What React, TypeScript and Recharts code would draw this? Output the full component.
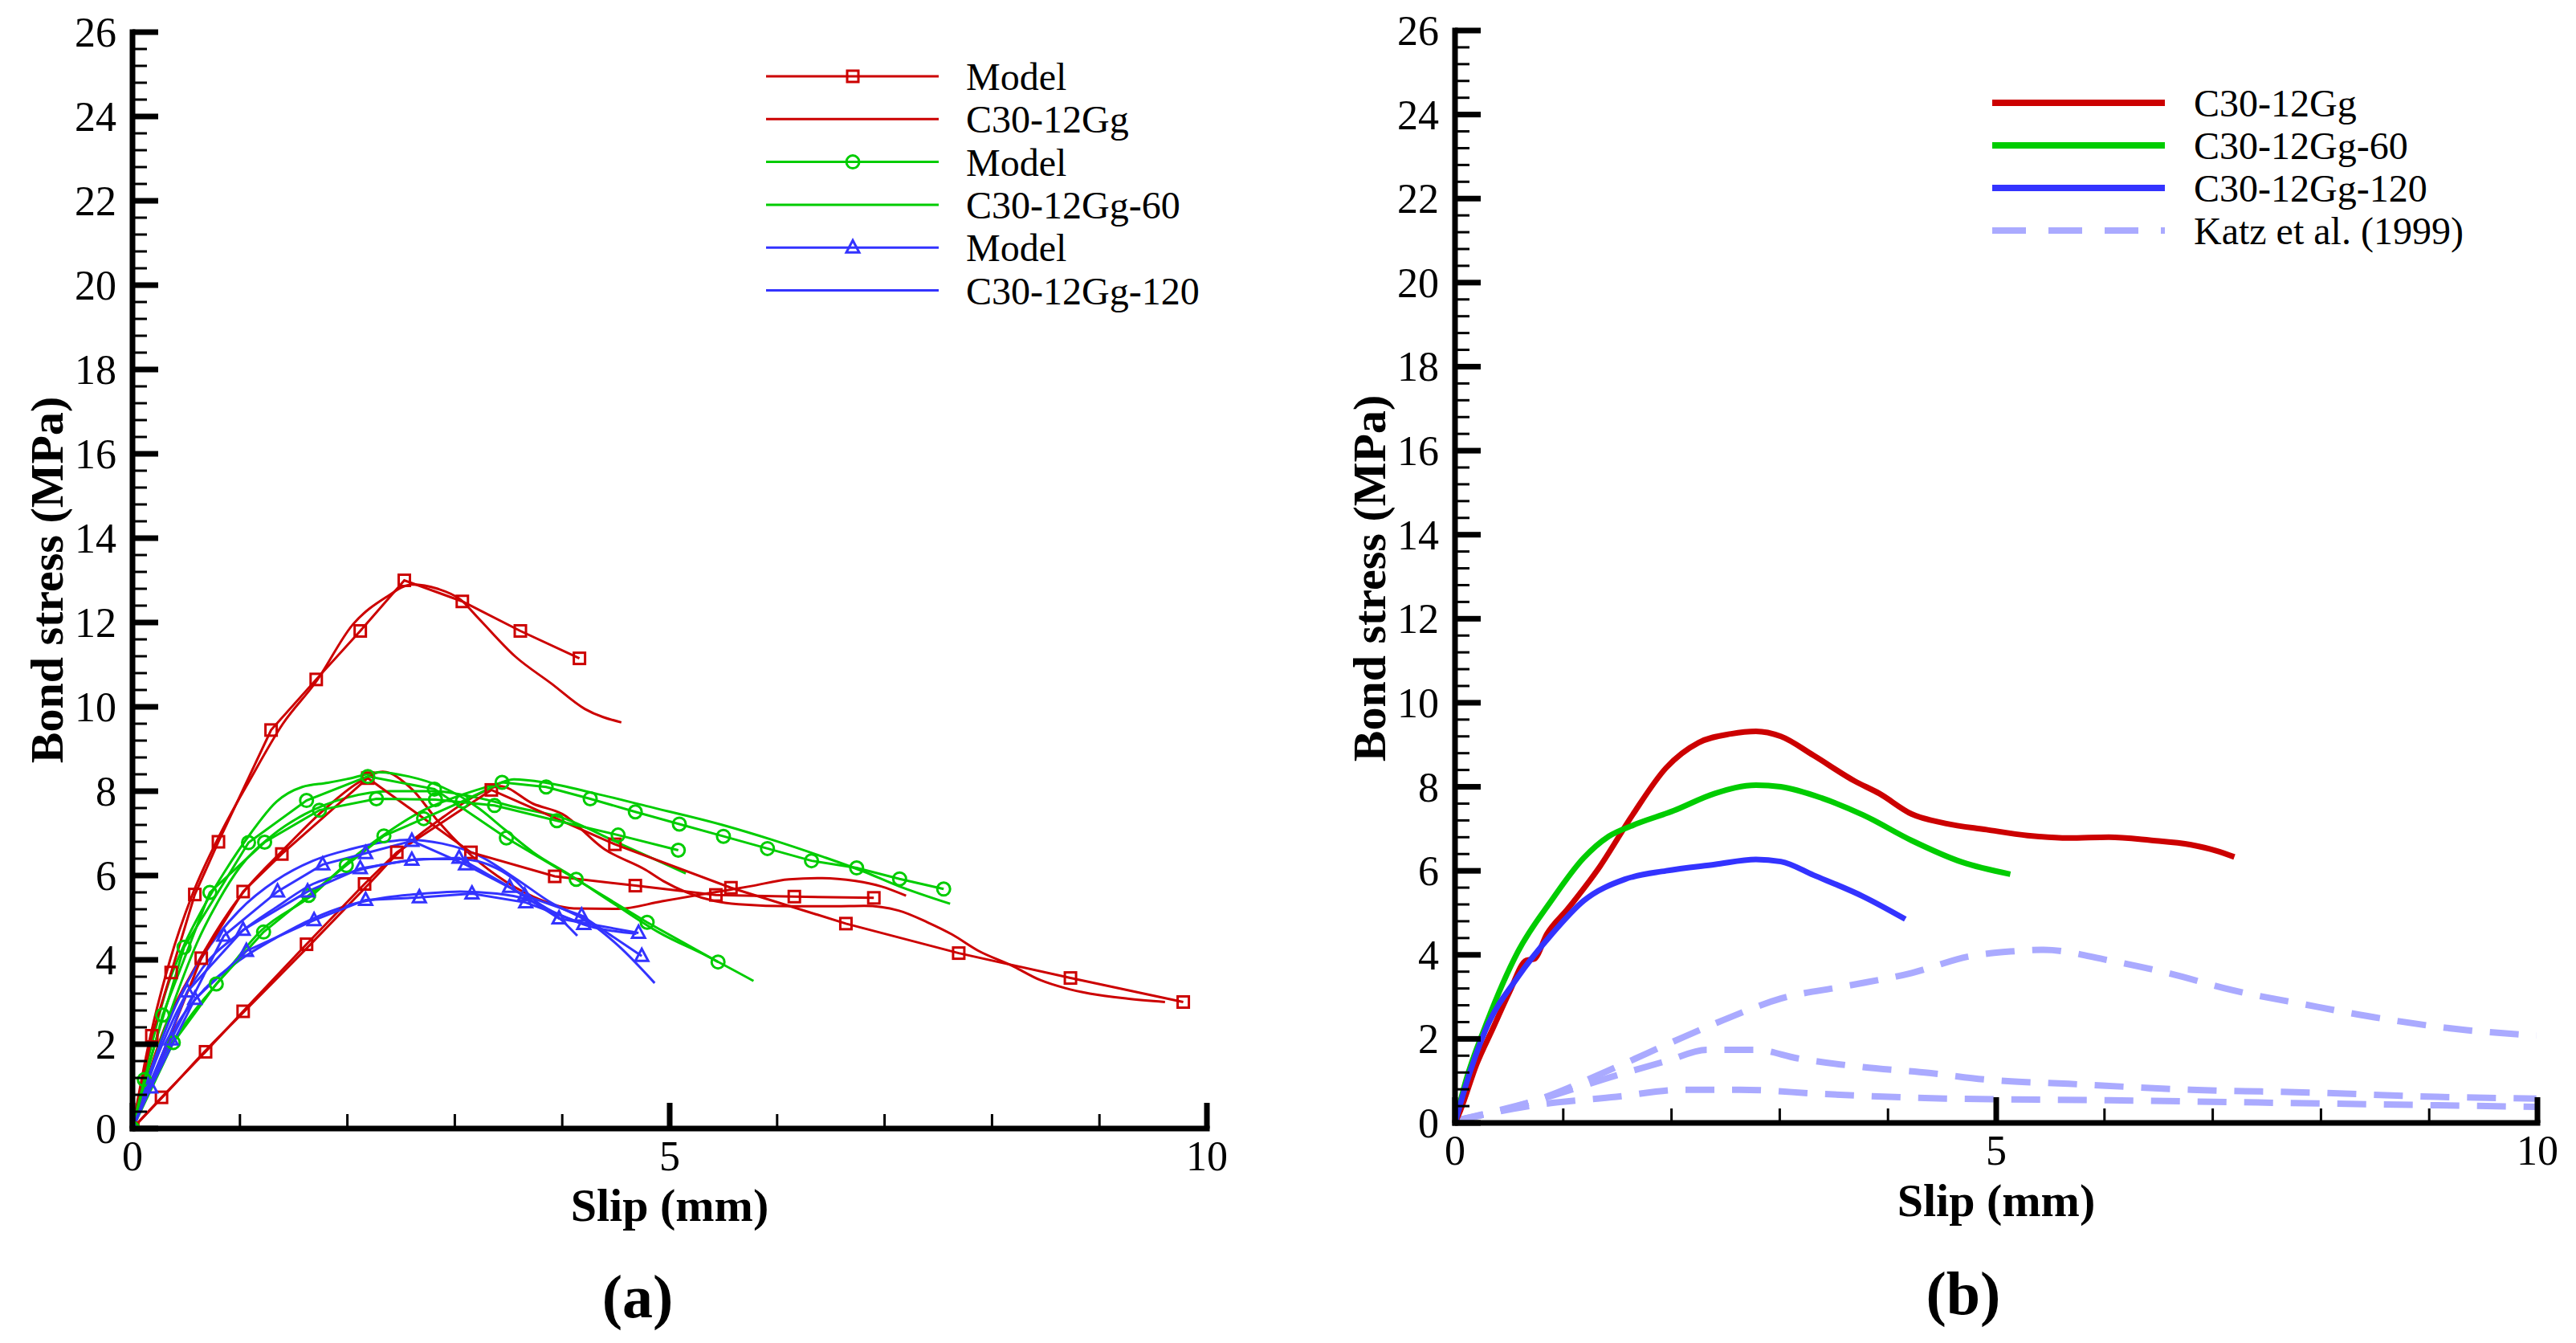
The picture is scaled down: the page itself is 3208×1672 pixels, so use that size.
import React from "react";
import { LineChart, Line, XAxis, YAxis } from "recharts";

type Pt = [number, number];

// axis tick labels
const X_MAJOR = [0, 5, 10];
const Y_MAJOR = [0, 2, 4, 6, 8, 10, 12, 14, 16, 18, 20, 22, 24, 26];

// (a) model curves (with markers)
const redModel1: Pt[] = [[0, 0], [0.18, 2.2], [0.36, 3.7], [0.58, 5.55], [0.8, 6.8], [1.29, 9.45], [1.71, 10.65], [2.12, 11.8], [2.53, 13.0], [3.07, 12.5], [3.61, 11.8], [4.16, 11.15]];
const redModel2: Pt[] = [[0, 0], [0.64, 4.04], [1.03, 5.62], [1.39, 6.51], [2.19, 8.31], [3.15, 6.55], [3.93, 5.98], [4.68, 5.76], [5.43, 5.54], [6.16, 5.5], [6.9, 5.47]];
const redModel3: Pt[] = [[0, 0], [0.27, 0.74], [0.68, 1.82], [1.03, 2.78], [1.62, 4.37], [2.16, 5.8], [2.46, 6.55], [3.34, 8.03], [4.49, 6.74], [5.57, 5.71], [6.64, 4.86], [7.69, 4.16], [8.73, 3.57], [9.78, 3.0]];
const greenModel1: Pt[] = [[0, 0], [0.28, 2.69], [0.72, 5.6], [1.23, 6.79], [1.74, 7.55], [2.27, 7.82], [2.82, 7.8], [3.37, 7.66], [3.95, 7.3], [4.52, 6.96], [5.08, 6.6]];
const greenModel2: Pt[] = [[0, 0], [0.11, 1.16], [0.48, 4.3], [1.08, 6.78], [1.62, 7.78], [2.19, 8.35], [2.81, 8.05], [3.48, 6.89], [4.13, 5.91], [4.79, 4.89], [5.45, 3.95]];
const greenModel3: Pt[] = [[0, 0], [0.38, 2.04], [0.78, 3.43], [1.22, 4.66], [1.64, 5.53], [1.99, 6.24], [2.34, 6.94], [2.71, 7.35], [3.07, 7.76], [3.44, 8.21], [3.85, 8.1], [4.26, 7.82], [4.68, 7.51], [5.09, 7.22], [5.5, 6.93], [5.91, 6.64], [6.32, 6.35], [6.74, 6.18], [7.14, 5.92], [7.55, 5.68]];
const blueModel1: Pt[] = [[0, 0], [0.36, 2.11], [0.85, 4.57], [1.35, 5.62], [1.77, 6.26], [2.17, 6.53], [2.6, 6.82], [3.1, 6.26], [3.65, 5.53], [4.18, 5.05], [4.74, 4.09]];
const blueModel2: Pt[] = [[0, 0], [0.51, 3.25], [1.03, 4.71], [1.63, 5.62], [2.12, 6.17], [2.6, 6.37], [3.04, 6.42], [3.51, 5.73], [3.97, 4.98], [4.71, 4.64]];
const blueModel3: Pt[] = [[0, 0], [0.17, 0.97], [0.58, 3.07], [1.06, 4.21], [1.69, 4.94], [2.17, 5.42], [2.67, 5.48], [3.16, 5.57], [3.66, 5.36], [4.2, 4.85]];

// (a) test curves
const redTest1: Pt[] = [[0, 0], [0.15, 2.0], [0.35, 4.0], [0.55, 5.5], [0.8, 6.9], [1.1, 8.3], [1.4, 9.6], [1.71, 10.6], [2.05, 11.95], [2.36, 12.6], [2.6, 12.9], [2.84, 12.8], [3.05, 12.55], [3.22, 12.1], [3.56, 11.2], [3.9, 10.55], [4.21, 9.95], [4.55, 9.63]];
const redTest2: Pt[] = [[0, 0], [0.3, 2.4], [0.6, 3.9], [1.0, 5.5], [1.4, 6.6], [1.8, 7.6], [2.1, 8.2], [2.33, 8.46], [2.6, 8.05], [2.84, 7.3], [3.1, 6.6], [3.39, 6.0], [3.73, 5.5], [4.11, 5.22], [4.52, 5.21], [4.93, 5.39], [5.34, 5.57], [5.76, 5.75], [6.11, 5.91], [6.42, 5.94], [6.73, 5.87], [6.97, 5.74], [7.2, 5.52]];
const redTest3: Pt[] = [[0, 0], [0.3, 0.8], [0.7, 1.9], [1.05, 2.8], [1.65, 4.35], [2.2, 5.8], [2.5, 6.6], [2.9, 7.4], [3.2, 7.9], [3.42, 8.12], [3.73, 7.7], [4.0, 7.46], [4.39, 6.63], [4.78, 6.13], [4.94, 5.87], [5.17, 5.59], [5.41, 5.4], [5.64, 5.32], [6.15, 5.27], [6.54, 5.27], [6.81, 5.28], [7.13, 5.17], [7.4, 4.89], [7.63, 4.6], [7.87, 4.22], [8.18, 3.87], [8.45, 3.52], [8.68, 3.33], [8.91, 3.2], [9.26, 3.08], [9.61, 3.0]];
const greenTest1: Pt[] = [[0, 0], [0.2, 1.6], [0.4, 3.1], [0.6, 4.4], [0.8, 5.4], [1.0, 6.2], [1.3, 6.95], [1.6, 7.45], [2.0, 7.85], [2.4, 8.0], [2.8, 8.0], [3.2, 7.85], [3.6, 7.6], [4.0, 7.37], [4.5, 6.8], [5.15, 6.05]];
const greenTest2: Pt[] = [[0, 0], [0.17, 1.9], [0.31, 3.25], [0.48, 4.35], [0.65, 5.2], [0.86, 6.1], [1.1, 7.0], [1.34, 7.75], [1.58, 8.1], [1.82, 8.2], [2.02, 8.3], [2.3, 8.45], [2.57, 8.35], [2.88, 8.1], [3.22, 7.6], [3.46, 7.1], [3.73, 6.55], [4.08, 6.0], [4.5, 5.3], [4.9, 4.65], [5.34, 4.1], [5.78, 3.5]];
const greenTest3: Pt[] = [[0, 0], [0.15, 1.0], [0.31, 1.8], [0.55, 2.7], [0.79, 3.45], [1.2, 4.7], [1.68, 5.55], [2.02, 6.35], [2.36, 7.0], [2.71, 7.55], [3.05, 7.9], [3.39, 8.17], [3.55, 8.28], [3.85, 8.2], [4.3, 7.95], [4.78, 7.65], [5.49, 7.2], [5.95, 6.85], [6.42, 6.45], [6.8, 6.1], [7.13, 5.75], [7.61, 5.33]];
const blueTest1: Pt[] = [[0, 0], [0.2, 1.6], [0.4, 2.9], [0.65, 4.07], [0.99, 5.16], [1.34, 5.89], [1.68, 6.35], [2.02, 6.62], [2.36, 6.8], [2.57, 6.85], [2.88, 6.76], [3.22, 6.48], [3.56, 5.94], [3.9, 5.35], [4.25, 4.89], [4.52, 4.34], [4.86, 3.45]];
const blueTest2: Pt[] = [[0, 0], [0.2, 1.5], [0.4, 2.7], [0.65, 3.8], [0.99, 4.62], [1.34, 5.25], [1.68, 5.8], [2.02, 6.07], [2.36, 6.27], [2.71, 6.39], [3.05, 6.39], [3.39, 6.17], [3.56, 5.89], [3.73, 5.44], [3.94, 5.07], [4.14, 4.57]];
const blueTest3: Pt[] = [[0, 0], [0.2, 1.3], [0.4, 2.4], [0.65, 3.25], [0.99, 3.98], [1.34, 4.53], [1.68, 4.98], [2.02, 5.3], [2.36, 5.48], [2.71, 5.57], [3.05, 5.62], [3.39, 5.57], [3.66, 5.44], [3.9, 5.16], [4.25, 4.8], [4.69, 4.62]];

// (b) curves
const redB: Pt[] = [[0, 0], [0.05, 0.3], [0.2, 1.4], [0.35, 2.25], [0.5, 3.1], [0.66, 3.87], [0.73, 3.9], [0.85, 4.5], [1.04, 5.09], [1.34, 6.11], [1.64, 7.33], [1.95, 8.45], [2.25, 9.05], [2.55, 9.26], [2.78, 9.32], [3.01, 9.2], [3.31, 8.75], [3.69, 8.14], [3.92, 7.84], [4.22, 7.35], [4.53, 7.13], [4.91, 6.98], [5.29, 6.84], [5.67, 6.78], [6.04, 6.8], [6.42, 6.73], [6.8, 6.62], [7.03, 6.48], [7.2, 6.33]];
const greenB: Pt[] = [[0, 0], [0.1, 1.0], [0.28, 2.3], [0.58, 4.07], [0.89, 5.29], [1.19, 6.31], [1.42, 6.82], [1.64, 7.08], [2.02, 7.43], [2.4, 7.84], [2.78, 8.04], [3.01, 8.0], [3.39, 7.73], [3.77, 7.33], [4.22, 6.72], [4.68, 6.21], [5.13, 5.92]];
const blueB: Pt[] = [[0, 0], [0.1, 0.9], [0.28, 2.2], [0.58, 3.47], [0.89, 4.48], [1.19, 5.29], [1.57, 5.8], [1.95, 6.0], [2.4, 6.15], [2.78, 6.27], [3.01, 6.22], [3.31, 5.9], [3.77, 5.39], [4.16, 4.85]];
const katz1: Pt[] = [[0, 0.05], [0.73, 0.52], [1.49, 1.33], [2.02, 1.94], [2.48, 2.45], [3.01, 2.96], [3.62, 3.26], [4.22, 3.57], [4.76, 3.97], [5.13, 4.08], [5.44, 4.12], [6.04, 3.87], [6.58, 3.57], [7.18, 3.16], [7.87, 2.81], [8.55, 2.49], [9.23, 2.24], [9.99, 2.08]];
const katz2: Pt[] = [[0, 0.05], [0.73, 0.52], [1.49, 1.13], [1.95, 1.47], [2.33, 1.74], [2.78, 1.74], [3.16, 1.54], [3.77, 1.33], [4.38, 1.19], [4.91, 1.03], [5.67, 0.93], [6.8, 0.79], [7.94, 0.72], [9.08, 0.62], [9.99, 0.58]];
const katz3: Pt[] = [[0, 0.05], [0.73, 0.42], [1.49, 0.62], [2.1, 0.79], [2.63, 0.79], [3.39, 0.69], [4.53, 0.58], [6.04, 0.54], [7.56, 0.48], [9.08, 0.42], [9.99, 0.38]];

const RED = "#cc0000";
const GREEN = "#00cc00";
const BLUE = "#3333ff";
const KATZ = "#aaaaff";
const SERIF = "'Liberation Serif', 'Times New Roman', serif";

const X_TICKS = Array.from({ length: 11 }, (_, i) => i);
const Y_TICKS = Array.from({ length: 66 }, (_, i) => Math.round(i * 4) / 10);

const rows = (pts: Pt[]) => pts.map(([x, y]) => ({ x, y }));
const isMajorY = (v: number) => Math.abs(v / 2 - Math.round(v / 2)) < 1e-6;

const XTick = (props: any) => {
  const { x, y, payload } = props;
  const v = payload.value;
  const major = X_MAJOR.includes(v);
  return (
    <g>
      <line x1={x} y1={y} x2={x} y2={y - (major ? 32 : 18)} stroke="#000" strokeWidth={major ? 7 : 3} />
      {major && (
        <text x={x} y={y + 52} textAnchor="middle" fontFamily={SERIF} fontSize={52} fill="#000">
          {v}
        </text>
      )}
    </g>
  );
};

const YTick = (props: any) => {
  const { x, y, payload } = props;
  const v = payload.value;
  const major = isMajorY(v);
  return (
    <g>
      <line x1={x} y1={y} x2={x + (major ? 32 : 18)} y2={y} stroke="#000" strokeWidth={major ? 7 : 3} />
      {major && Y_MAJOR.includes(Math.round(v)) && (
        <text x={x - 20} y={y + 18} textAnchor="end" fontFamily={SERIF} fontSize={52} fill="#000">
          {Math.round(v)}
        </text>
      )}
    </g>
  );
};

type Shape = "square" | "circle" | "triangle";

const marker = (shape: Shape, color: string) => (p: any) => {
  const { cx, cy, index } = p;
  const k = `mk-${index}`;
  if (cx == null || cy == null) return <g key={k} />;
  if (shape === "square")
    return <rect key={k} x={cx - 7} y={cy - 7} width={14} height={14} fill="none" stroke={color} strokeWidth={3} />;
  if (shape === "circle")
    return <circle key={k} cx={cx} cy={cy} r={8} fill="none" stroke={color} strokeWidth={3} />;
  return (
    <polygon key={k} points={`${cx},${cy - 9} ${cx - 8},${cy + 6} ${cx + 8},${cy + 6}`} fill="none" stroke={color} strokeWidth={3} />
  );
};

const seriesA = [
  { id: "rt1", pts: redTest1, color: RED },
  { id: "rt2", pts: redTest2, color: RED },
  { id: "rt3", pts: redTest3, color: RED },
  { id: "gt1", pts: greenTest1, color: GREEN },
  { id: "gt2", pts: greenTest2, color: GREEN },
  { id: "gt3", pts: greenTest3, color: GREEN },
  { id: "bt1", pts: blueTest1, color: BLUE },
  { id: "bt2", pts: blueTest2, color: BLUE },
  { id: "bt3", pts: blueTest3, color: BLUE },
  { id: "rm1", pts: redModel1, color: RED, shape: "square" as Shape },
  { id: "rm2", pts: redModel2, color: RED, shape: "square" as Shape },
  { id: "rm3", pts: redModel3, color: RED, shape: "square" as Shape },
  { id: "gm1", pts: greenModel1, color: GREEN, shape: "circle" as Shape },
  { id: "gm2", pts: greenModel2, color: GREEN, shape: "circle" as Shape },
  { id: "gm3", pts: greenModel3, color: GREEN, shape: "circle" as Shape },
  { id: "bm1", pts: blueModel1, color: BLUE, shape: "triangle" as Shape },
  { id: "bm2", pts: blueModel2, color: BLUE, shape: "triangle" as Shape },
  { id: "bm3", pts: blueModel3, color: BLUE, shape: "triangle" as Shape },
];

const seriesB = [
  { id: "k1", pts: katz1, color: KATZ, dash: true },
  { id: "k2", pts: katz2, color: KATZ, dash: true },
  { id: "k3", pts: katz3, color: KATZ, dash: true },
  { id: "rb", pts: redB, color: RED },
  { id: "gb", pts: greenB, color: GREEN },
  { id: "bb", pts: blueB, color: BLUE },
];

const legendA = [
  { label: "Model", color: RED, shape: "square" as Shape },
  { label: "C30-12Gg", color: RED },
  { label: "Model", color: GREEN, shape: "circle" as Shape },
  { label: "C30-12Gg-60", color: GREEN },
  { label: "Model", color: BLUE, shape: "triangle" as Shape },
  { label: "C30-12Gg-120", color: BLUE },
];

const legendB = [
  { label: "C30-12Gg", color: RED },
  { label: "C30-12Gg-60", color: GREEN },
  { label: "C30-12Gg-120", color: BLUE },
  { label: "Katz et al. (1999)", color: KATZ, dash: true },
];

const axisLine = { stroke: "#000", strokeWidth: 7, strokeLinecap: "square" as const };

function Axes() {
  return [
    <XAxis
      key="x"
      type="number"
      dataKey="x"
      domain={[0, 10]}
      ticks={X_TICKS}
      interval={0}
      tick={XTick}
      tickLine={false}
      tickSize={0}
      tickMargin={0}
      height={60}
      axisLine={axisLine}
      allowDataOverflow
    />,
    <YAxis
      key="y"
      type="number"
      domain={[0, 26]}
      ticks={Y_TICKS}
      interval={0}
      tick={YTick}
      tickLine={false}
      tickSize={0}
      tickMargin={0}
      width={60}
      axisLine={axisLine}
      allowDataOverflow
    />,
  ];
}

export default function App() {
  return (
    <div style={{ position: "absolute", left: 0, top: 0, width: 3208, height: 1672, background: "#fff" }}>
      <div style={{ position: "absolute", left: 0, top: 0 }}>
        <LineChart width={1604} height={1672} margin={{ top: 40, right: 101, bottom: 207, left: 105 }}>
          {Axes()}
          {seriesA.map((s) => (
            <Line
              key={s.id}
              data={rows(s.pts)}
              dataKey="y"
              type={s.shape ? "linear" : "monotone"}
              stroke={s.color}
              strokeWidth={3}
              dot={s.shape ? marker(s.shape, s.color) : false}
              activeDot={false}
              isAnimationActive={false}
            />
          ))}
        </LineChart>
      </div>
      <div style={{ position: "absolute", left: 1604, top: 0 }}>
        <LineChart width={1604} height={1672} margin={{ top: 38, right: 48, bottom: 214, left: 148 }}>
          {Axes()}
          {seriesB.map((s) => (
            <Line
              key={s.id}
              data={rows(s.pts)}
              dataKey="y"
              type="monotone"
              stroke={s.color}
              strokeWidth={s.dash ? 8 : 7}
              strokeDasharray={s.dash ? "36 22" : undefined}
              dot={false}
              activeDot={false}
              isAnimationActive={false}
            />
          ))}
        </LineChart>
      </div>
      <svg
        width={3208}
        height={1672}
        style={{ position: "absolute", left: 0, top: 0, pointerEvents: "none" }}
        fontFamily={SERIF}
      >
        <text transform="translate(58,722) rotate(-90)" textAnchor="middle" dominantBaseline="central" fontSize={58} fontWeight="bold">
          Bond stress (MPa)
        </text>
        <text x={834} y={1520} textAnchor="middle" fontSize={58} fontWeight="bold">
          Slip (mm)
        </text>
        <text x={794} y={1640} textAnchor="middle" fontSize={76} fontWeight="bold">
          (a)
        </text>
        <text transform="translate(1705,720) rotate(-90)" textAnchor="middle" dominantBaseline="central" fontSize={58} fontWeight="bold">
          Bond stress (MPa)
        </text>
        <text x={2486} y={1514} textAnchor="middle" fontSize={58} fontWeight="bold">
          Slip (mm)
        </text>
        <text x={2445} y={1636} textAnchor="middle" fontSize={76} fontWeight="bold">
          (b)
        </text>
        {legendA.map((e, i) => {
          const y = 95 + i * 53.3;
          const cx = 1062;
          return (
            <g key={`la-${i}`}>
              <line x1={954} x2={1169} y1={y} y2={y} stroke={e.color} strokeWidth={3} />
              {e.shape && marker(e.shape, e.color)({ cx, cy: y, index: i })}
              <text x={1203} y={y + 17} fontSize={48}>
                {e.label}
              </text>
            </g>
          );
        })}
        {legendB.map((e, i) => {
          const y = 128 + i * 53;
          return (
            <g key={`lb-${i}`}>
              <line
                x1={2481}
                x2={2696}
                y1={y}
                y2={y}
                stroke={e.color}
                strokeWidth={8}
                strokeDasharray={e.dash ? "42 28" : undefined}
              />
              <text x={2732} y={y + 17} fontSize={48}>
                {e.label}
              </text>
            </g>
          );
        })}
      </svg>
    </div>
  );
}
